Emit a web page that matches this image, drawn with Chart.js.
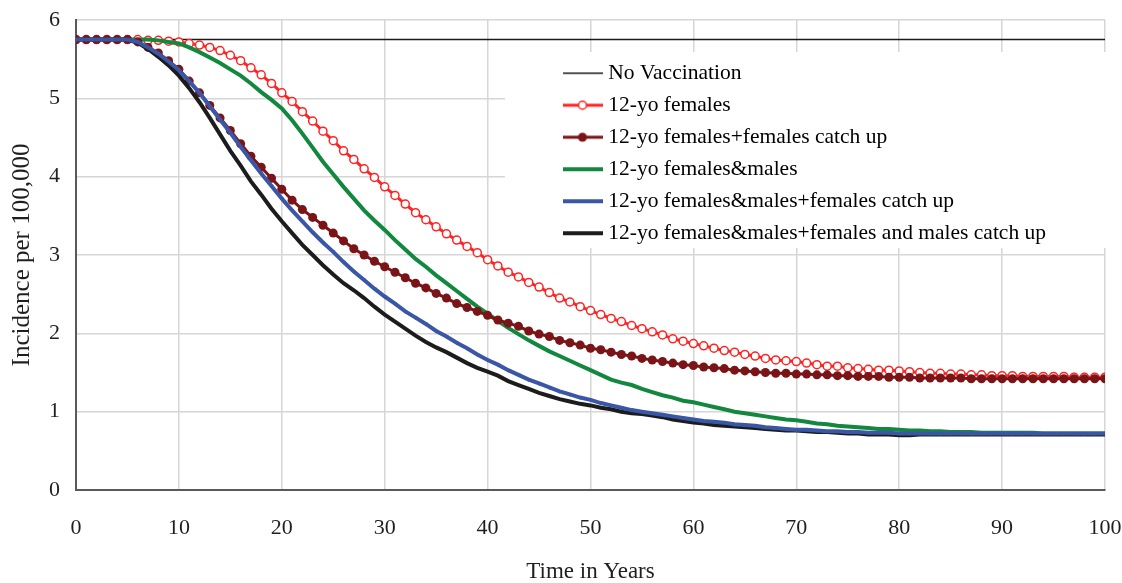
<!DOCTYPE html>
<html>
<head>
<meta charset="utf-8">
<title>Incidence per 100,000</title>
<script src="https://cdn.jsdelivr.net/npm/chart.js@4.4.1/dist/chart.umd.min.js"></script>
<style>
    html, body { margin: 0; padding: 0; background: #fff; }
    #chart { display: block; }
</style>
</head>
<body>
<canvas id="chart" width="1122" height="583"></canvas>
<script>
// years on the x axis
const years = [
    0, 1, 2, 3, 4, 5, 6, 7, 8, 9,
    10, 11, 12, 13, 14, 15, 16, 17, 18, 19,
    20, 21, 22, 23, 24, 25, 26, 27, 28, 29,
    30, 31, 32, 33, 34, 35, 36, 37, 38, 39,
    40, 41, 42, 43, 44, 45, 46, 47, 48, 49,
    50, 51, 52, 53, 54, 55, 56, 57, 58, 59,
    60, 61, 62, 63, 64, 65, 66, 67, 68, 69,
    70, 71, 72, 73, 74, 75, 76, 77, 78, 79,
    80, 81, 82, 83, 84, 85, 86, 87, 88, 89,
    90, 91, 92, 93, 94, 95, 96, 97, 98, 99,
    100
];

// no vaccination is flat, only the two ends are needed
const noVaccYears = [0, 100];
const noVaccination = [5.75, 5.75];

const females12 = [
    5.75, 5.75, 5.75, 5.75, 5.75, 5.75, 5.75, 5.74, 5.74, 5.73,
    5.72, 5.70, 5.68, 5.65, 5.61, 5.55, 5.48, 5.39, 5.30, 5.19,
    5.07, 4.96, 4.83, 4.71, 4.58, 4.46, 4.33, 4.22, 4.10, 3.99,
    3.87, 3.76, 3.65, 3.54, 3.45, 3.36, 3.27, 3.19, 3.11, 3.03,
    2.94, 2.86, 2.78, 2.72, 2.65, 2.59, 2.52, 2.45, 2.40, 2.34,
    2.29, 2.24, 2.19, 2.15, 2.10, 2.06, 2.02, 1.98, 1.93, 1.90,
    1.87, 1.84, 1.81, 1.78, 1.76, 1.73, 1.71, 1.68, 1.66, 1.65,
    1.64, 1.62, 1.60, 1.58, 1.58, 1.56, 1.55, 1.54, 1.53, 1.53,
    1.52, 1.51, 1.50, 1.49, 1.49, 1.48, 1.48, 1.47, 1.47, 1.46,
    1.46, 1.46, 1.45, 1.45, 1.45, 1.45, 1.45, 1.44, 1.44, 1.44,
    1.44
];

const femalesCatchUp = [
    5.75, 5.75, 5.75, 5.75, 5.75, 5.75, 5.72, 5.65, 5.58, 5.48,
    5.37, 5.22, 5.07, 4.91, 4.75, 4.59, 4.42, 4.26, 4.12, 3.98,
    3.84, 3.70, 3.58, 3.48, 3.38, 3.28, 3.18, 3.08, 3.00, 2.92,
    2.85, 2.78, 2.71, 2.64, 2.58, 2.51, 2.45, 2.38, 2.33, 2.28,
    2.23, 2.17, 2.13, 2.09, 2.03, 1.99, 1.96, 1.91, 1.88, 1.85,
    1.81, 1.79, 1.76, 1.73, 1.71, 1.68, 1.66, 1.64, 1.62, 1.60,
    1.59, 1.57, 1.56, 1.55, 1.53, 1.52, 1.51, 1.50, 1.49, 1.49,
    1.48, 1.48, 1.47, 1.47, 1.46, 1.46, 1.45, 1.45, 1.45, 1.44,
    1.44, 1.44, 1.43, 1.43, 1.43, 1.43, 1.43, 1.42, 1.42, 1.42,
    1.42, 1.42, 1.42, 1.42, 1.42, 1.42, 1.42, 1.42, 1.42, 1.42,
    1.42
];

const femalesMales = [
    5.75, 5.75, 5.75, 5.75, 5.75, 5.75, 5.75, 5.75, 5.74, 5.72,
    5.70, 5.65, 5.59, 5.52, 5.45, 5.37, 5.29, 5.19, 5.08, 4.98,
    4.87, 4.72, 4.55, 4.37, 4.19, 4.03, 3.87, 3.72, 3.57, 3.44,
    3.32, 3.19, 3.07, 2.95, 2.85, 2.74, 2.64, 2.54, 2.44, 2.34,
    2.25, 2.16, 2.07, 1.99, 1.91, 1.84, 1.77, 1.71, 1.65, 1.59,
    1.53, 1.47, 1.41, 1.37, 1.34, 1.29, 1.25, 1.21, 1.18, 1.14,
    1.12, 1.09, 1.06, 1.03, 1.00, 0.98, 0.96, 0.94, 0.92, 0.90,
    0.89, 0.87, 0.85, 0.84, 0.82, 0.81, 0.80, 0.79, 0.78, 0.78,
    0.77, 0.76, 0.76, 0.75, 0.75, 0.74, 0.74, 0.74, 0.73, 0.73,
    0.73, 0.73, 0.73, 0.73, 0.72, 0.72, 0.72, 0.72, 0.72, 0.72,
    0.72
];

const femalesMalesCatchUp = [
    5.75, 5.75, 5.75, 5.75, 5.75, 5.75, 5.72, 5.65, 5.57, 5.47,
    5.36, 5.22, 5.07, 4.90, 4.73, 4.56, 4.38, 4.21, 4.04, 3.88,
    3.72, 3.57, 3.43, 3.29, 3.16, 3.04, 2.91, 2.79, 2.68, 2.57,
    2.47, 2.38, 2.28, 2.20, 2.12, 2.03, 1.96, 1.88, 1.81, 1.73,
    1.66, 1.60, 1.53, 1.47, 1.41, 1.36, 1.31, 1.26, 1.22, 1.18,
    1.15, 1.11, 1.08, 1.05, 1.02, 1.00, 0.98, 0.96, 0.94, 0.92,
    0.90, 0.88, 0.87, 0.86, 0.84, 0.83, 0.82, 0.80, 0.79, 0.78,
    0.77, 0.77, 0.76, 0.75, 0.75, 0.74, 0.74, 0.73, 0.73, 0.73,
    0.72, 0.72, 0.72, 0.72, 0.72, 0.72, 0.72, 0.72, 0.72, 0.72,
    0.72, 0.72, 0.72, 0.72, 0.72, 0.72, 0.72, 0.72, 0.72, 0.72,
    0.72
];

const allCatchUp = [
    5.75, 5.75, 5.75, 5.75, 5.75, 5.75, 5.71, 5.63, 5.53, 5.42,
    5.29, 5.13, 4.95, 4.75, 4.54, 4.33, 4.14, 3.94, 3.77, 3.59,
    3.43, 3.28, 3.13, 3.00, 2.87, 2.75, 2.64, 2.55, 2.45, 2.34,
    2.24, 2.15, 2.06, 1.97, 1.89, 1.82, 1.76, 1.69, 1.62, 1.56,
    1.51, 1.46, 1.39, 1.34, 1.29, 1.24, 1.20, 1.16, 1.13, 1.10,
    1.08, 1.05, 1.03, 1.00, 0.98, 0.97, 0.95, 0.93, 0.90, 0.88,
    0.86, 0.85, 0.83, 0.82, 0.81, 0.80, 0.79, 0.78, 0.77, 0.76,
    0.76, 0.75, 0.74, 0.74, 0.73, 0.72, 0.72, 0.71, 0.71, 0.71,
    0.70, 0.70, 0.71, 0.71, 0.71, 0.71, 0.71, 0.71, 0.71, 0.71,
    0.71, 0.71, 0.71, 0.71, 0.71, 0.71, 0.71, 0.71, 0.71, 0.71,
    0.71
];

const yTicks = [0, 1, 2, 3, 4, 5, 6];
const xTicks = [0, 10, 20, 30, 40, 50, 60, 70, 80, 90, 100];

function toPoints(xs, ys) {
    return ys.map(function(v, i) { return { x: xs[i], y: v }; });
}

// small line + marker picture for each legend entry
function makeSwatch(ds) {
    const c = document.createElement('canvas');
    c.width = 40;
    c.height = 14;
    const g = c.getContext('2d');
    g.strokeStyle = ds.borderColor;
    g.lineWidth = ds.borderWidth;
    g.beginPath();
    g.moveTo(0, 7);
    g.lineTo(40, 7);
    g.stroke();
    if (ds.legendMarker === 'open') {
        g.beginPath();
        g.arc(20, 7, 4, 0, Math.PI * 2);
        g.fillStyle = '#fff';
        g.fill();
        g.lineWidth = 1.5;
        g.stroke();
    } else if (ds.legendMarker === 'filled') {
        g.beginPath();
        g.arc(20, 7, 4.5, 0, Math.PI * 2);
        g.fillStyle = ds.borderColor;
        g.fill();
    }
    return c;
}

const serif = 'Liberation Serif';

// move the legend into the top right of the plot, white box behind it
const legendBoxPlugin = {
    id: 'legendBox',
    afterLayout: function(chart) {
        const lg = chart.legend;
        const w = lg.width;
        const h = lg.height;
        lg.left = 557;
        lg.top = 52;
        lg.right = lg.left + w;
        lg.bottom = lg.top + h;
    },
    beforeDatasetsDraw: function(chart) {
        const ctx = chart.ctx;
        ctx.save();
        ctx.fillStyle = '#ffffff';
        ctx.fillRect(505, 52, 602, 196);
        ctx.restore();
        chart.legend.draw();
    }
};

const ctx = document.getElementById('chart').getContext('2d');
const chart = new Chart(ctx, {
    type: 'line',
    data: {
        datasets: [
            {
                label: 'No Vaccination',
                data: toPoints(noVaccYears, noVaccination),
                borderColor: '#1a1a1a',
                borderWidth: 1.5,
                pointRadius: 0,
                order: 5
            },
            {
                label: '12-yo females',
                data: toPoints(years, females12),
                borderColor: '#ff2424',
                borderWidth: 3,
                pointRadius: 4,
                pointBorderWidth: 1.5,
                pointBackgroundColor: '#ffffff',
                pointBorderColor: '#ff2424',
                legendMarker: 'open',
                order: 4
            },
            {
                label: '12-yo females+females catch up',
                data: toPoints(years, femalesCatchUp),
                borderColor: '#7b1416',
                borderWidth: 3,
                pointRadius: 4.5,
                pointBorderWidth: 0,
                pointBackgroundColor: '#7b1416',
                legendMarker: 'filled',
                order: 2
            },
            {
                label: '12-yo females&males',
                data: toPoints(years, femalesMales),
                borderColor: '#12883e',
                borderWidth: 4,
                pointRadius: 0,
                order: 3
            },
            {
                label: '12-yo females&males+females catch up',
                data: toPoints(years, femalesMalesCatchUp),
                borderColor: '#3a56a6',
                borderWidth: 4,
                pointRadius: 2.5,
                pointStyle: 'triangle',
                pointRotation: 180,
                pointBorderWidth: 0,
                pointBackgroundColor: '#3a56a6',
                order: 0
            },
            {
                label: '12-yo females&males+females and males catch up',
                data: toPoints(years, allCatchUp),
                borderColor: '#1c1c1c',
                borderWidth: 4,
                pointRadius: 0,
                order: 1
            }
        ]
    },
    options: {
        responsive: false,
        animation: false,
        events: [],
        layout: {
            padding: { left: 10, right: 17, top: 20, bottom: 0 }
        },
        elements: {
            line: { tension: 0, fill: false }
        },
        scales: {
            x: {
                type: 'linear',
                min: 0,
                max: 100,
                afterBuildTicks: function(axis) {
                    axis.ticks = xTicks.map(function(v) { return { value: v }; });
                },
                afterFit: function(axis) {
                    axis.height = 93;
                    axis.paddingLeft = 0;
                    axis.paddingRight = 0;
                },
                ticks: {
                    color: '#1f1f1f',
                    padding: 25,
                    font: { family: serif, size: 22 }
                },
                grid: {
                    color: '#d6d6d6',
                    lineWidth: 1.5,
                    drawTicks: false
                },
                border: { color: '#595959', width: 2 },
                title: {
                    display: true,
                    text: 'Time in Years',
                    color: '#1f1f1f',
                    font: { family: serif, size: 23, lineHeight: 1 },
                    padding: { top: 0, bottom: 0 }
                }
            },
            y: {
                min: 0,
                max: 6,
                afterBuildTicks: function(axis) {
                    axis.ticks = yTicks.map(function(v) { return { value: v }; });
                },
                afterFit: function(axis) {
                    axis.width = 66;
                    axis.paddingTop = 0;
                    axis.paddingBottom = 0;
                },
                ticks: {
                    color: '#1f1f1f',
                    padding: 16,
                    font: { family: serif, size: 22 }
                },
                grid: {
                    color: '#d6d6d6',
                    lineWidth: 1.5,
                    drawTicks: false
                },
                border: { color: '#595959', width: 2 },
                title: {
                    display: true,
                    text: 'Incidence per 100,000',
                    color: '#1f1f1f',
                    font: { family: serif, size: 25, lineHeight: 1 },
                    padding: { top: 0, bottom: 0 }
                }
            }
        },
        plugins: {
            legend: {
                display: true,
                position: 'chartArea',
                align: 'start',
                labels: {
                    color: '#1f1f1f',
                    font: { family: serif, size: 21.5 },
                    padding: 10.5,
                    usePointStyle: true,
                    pointStyleWidth: 30,
                    generateLabels: function(chart) {
                        return chart.data.datasets.map(function(ds, i) {
                            return {
                                text: ds.label,
                                pointStyle: makeSwatch(ds),
                                fillStyle: ds.borderColor,
                                strokeStyle: ds.borderColor,
                                lineWidth: 0,
                                hidden: false,
                                datasetIndex: i
                            };
                        });
                    }
                }
            },
            tooltip: { enabled: false }
        }
    },
    plugins: [legendBoxPlugin]
});
</script>
</body>
</html>
